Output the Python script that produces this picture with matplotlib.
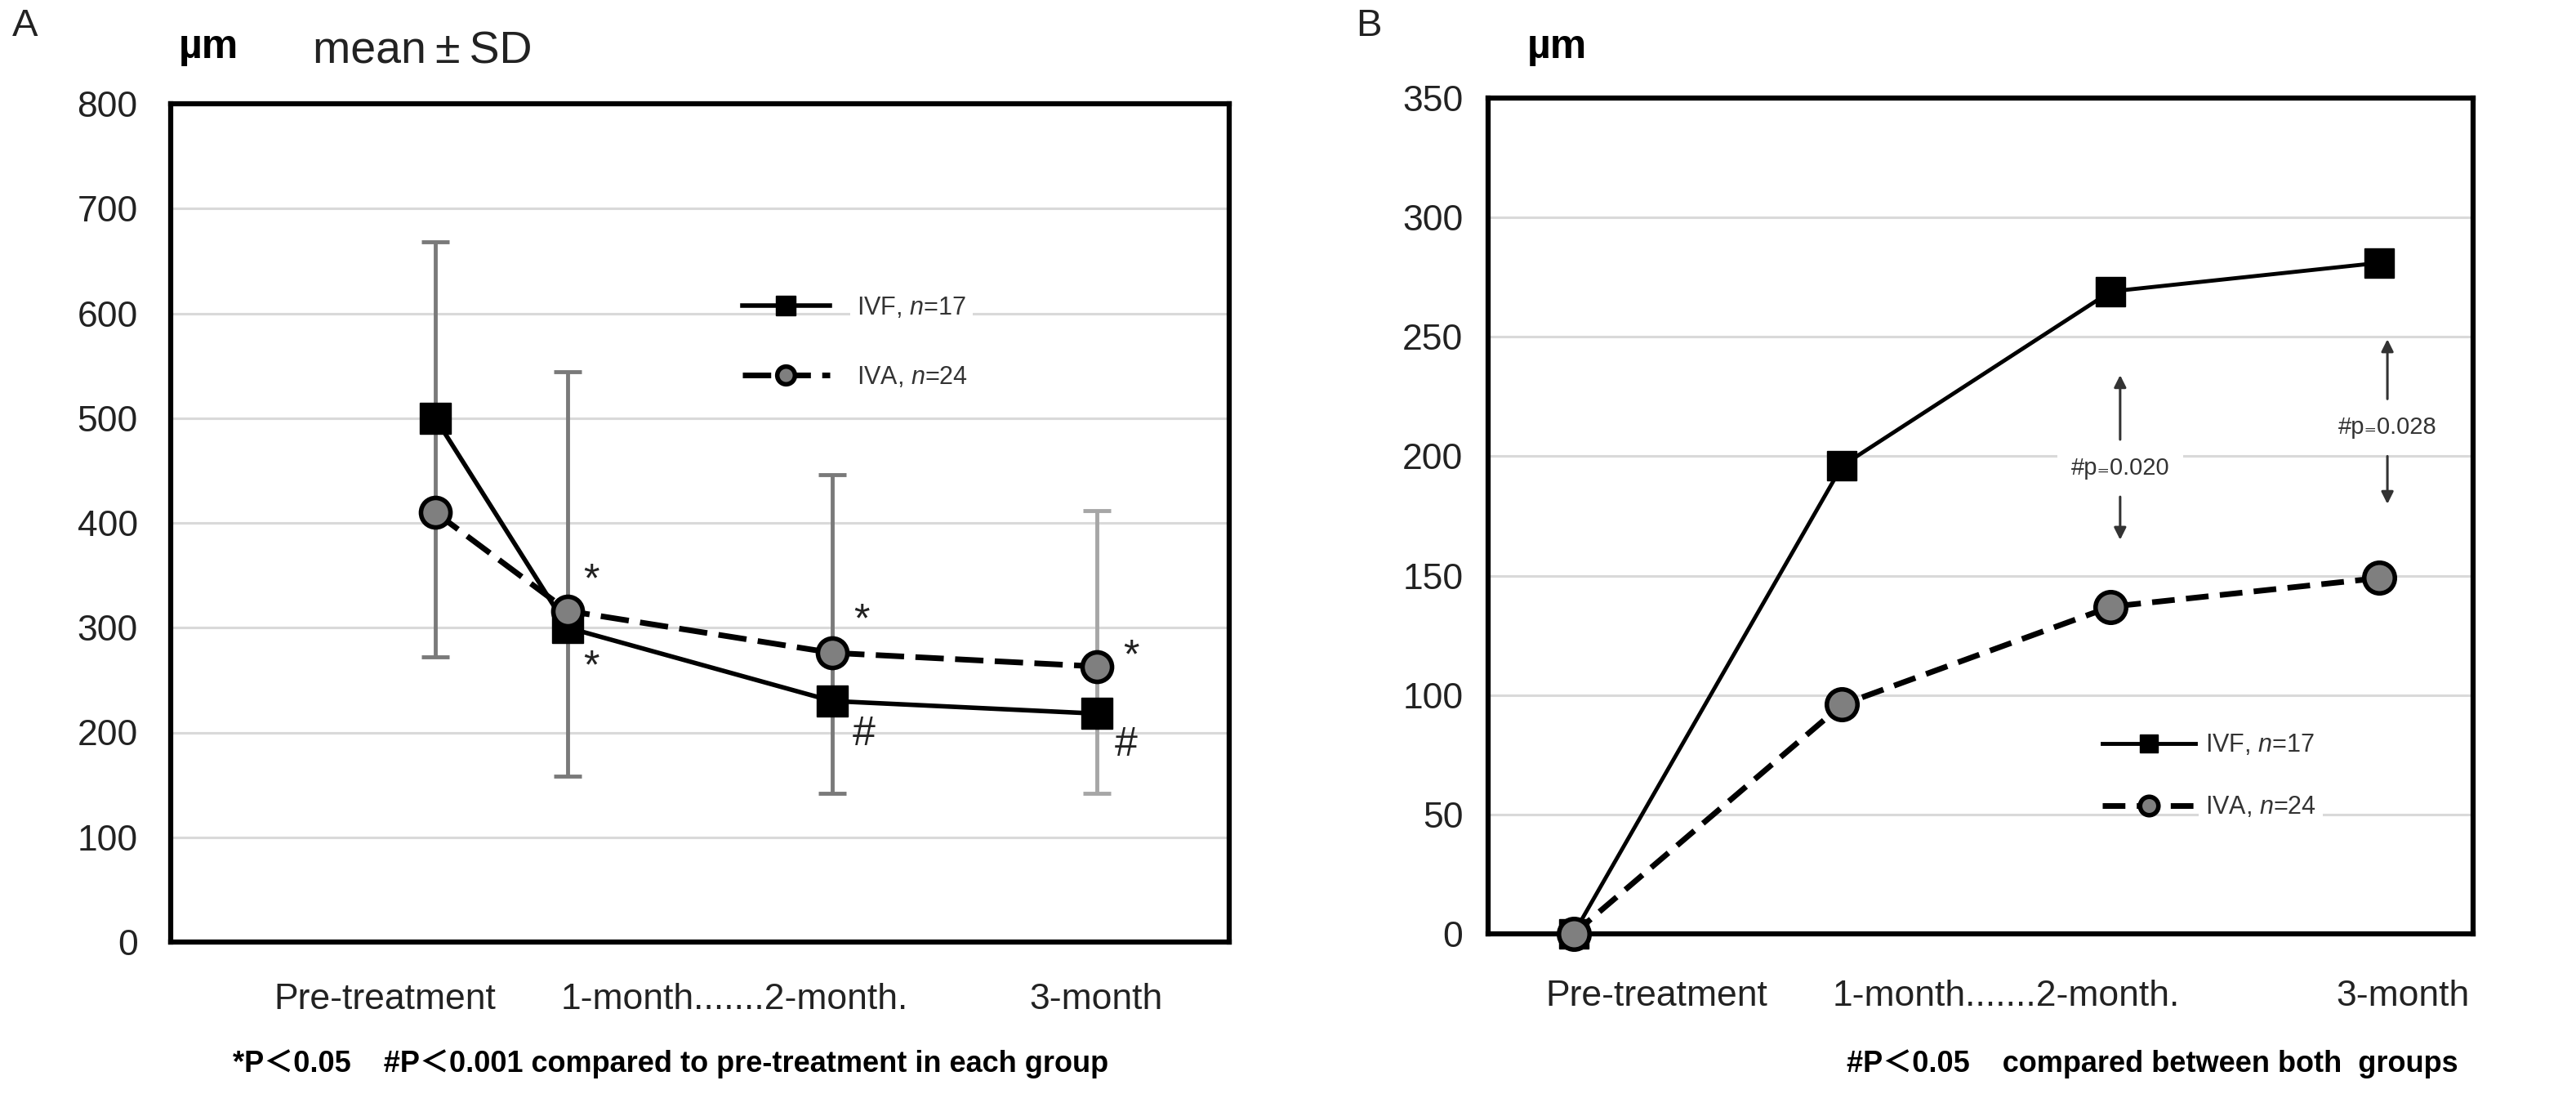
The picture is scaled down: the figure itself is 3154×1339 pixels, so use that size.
import matplotlib
matplotlib.use('Agg')
import matplotlib.pyplot as plt
from matplotlib import font_manager

# pick the narrow face if it is there
names = {f.name for f in font_manager.fontManager.ttflist}
NARROW = 'Liberation Sans Narrow' if 'Liberation Sans Narrow' in names else 'Liberation Sans'
FAM = [NARROW, 'Noto Sans CJK JP', 'DejaVu Sans']
plt.rcParams['font.family'] = FAM
plt.rcParams['mathtext.fontset'] = 'custom'
plt.rcParams['mathtext.it'] = 'Liberation Sans:italic'
plt.rcParams['mathtext.rm'] = 'Liberation Sans'

# ---- data ----
tick_labels = ['Pre-treatment', '1-month.......', '2-month.', '3-month']
ivf_thick = [500, 300, 230, 218]
iva_thick = [410, 316, 276, 263]
sd_top = [668, 544, 446, 412]
sd_bottom = [272, 158, 142, 142]
ivf_change = [0, 196, 269, 281]
iva_change = [0, 96, 137, 149]
p_text = ['#p\u208c0.020', '#p\u208c0.028']
legend_ivf = 'IVF, $n$=17'
legend_iva = 'IVA, $n$=24'

# category slots (panel A pre-treatment point sits off its slot in the original)
xa = [1.0, 1.5, 2.5, 3.5]
xb = [0, 1, 2, 3]
lab_xa = [0.39, 1.475, 3.245]
lab_xb = [-0.104, 0.965, 2.84]
bar_cols = ['#7a7a7a', '#7a7a7a', '#7a7a7a', '#a6a6a6']

W, H = 3154, 1339
fig = plt.figure(figsize=(W / 100, H / 100), dpi=100)
axA = fig.add_axes([209 / W, 1 - 1153 / H, (1505 - 209) / W, (1153 - 127) / H])
axB = fig.add_axes([1822 / W, 1 - 1143 / H, (3028 - 1822) / W, (1143 - 120) / H])


def style(ax, top, step, pad):
    ax.set_ylim(0, top)
    ax.set_yticks(range(0, top + 1, step))
    ax.set_xticks([])
    ax.yaxis.grid(True, color='#d9d9d9', lw=2.2)
    ax.set_axisbelow(True)
    ax.tick_params(axis='y', length=0, pad=pad, labelsize=32, labelcolor='#222222')
    for s in ax.spines.values():
        s.set_linewidth(4.5)
        s.set_color('black')


def xlabels(ax, xs, y):
    texts = [tick_labels[0], tick_labels[1] + tick_labels[2], tick_labels[3]]
    for x, s in zip(xs, texts):
        ax.text(x, y, s, transform=ax.get_xaxis_transform(), ha='left', va='center',
                fontsize=32, color='#222222')


# ---- panel A ----
style(axA, 800, 100, 29)
axA.set_xlim(0, 4)
for i in range(len(xa)):
    mid = (sd_top[i] + sd_bottom[i]) / 2
    axA.errorbar(xa[i], mid, yerr=[[mid - sd_bottom[i]], [sd_top[i] - mid]], fmt='none',
                 ecolor=bar_cols[i], elinewidth=3.5, capsize=12, capthick=3.5, zorder=2)
axA.plot(xa, ivf_thick, '-', color='black', lw=4, marker='s', ms=28, mfc='black', mec='black',
         label=legend_ivf, zorder=3)
axA.plot(xa, iva_thick, color='black', lw=5, dashes=(5, 2), marker='o', ms=26, mfc='#7f7f7f',
         mec='black', mew=4, label=legend_iva, zorder=4)

marks = [(1.59, 344, '*'), (1.59, 262, '*'), (2.61, 306, '*'), (2.62, 198, '#'),
         (3.63, 272, '*'), (3.61, 188, '#')]
for x, y, s in marks:
    axA.text(x, y, s, ha='center', va='center', fontsize=36, color='#222222',
             family=['Liberation Sans', 'DejaVu Sans'])

legA = axA.legend(loc='upper left', bbox_to_anchor=(0.54, 0.771), frameon=False,
                  handlelength=3.5, handletextpad=1.1, labelspacing=1.8, borderpad=0,
                  borderaxespad=0, markerscale=0.6,
                  prop={'family': ['Liberation Sans', 'DejaVu Sans'], 'size': 22})
for t in legA.get_texts():
    t.set_color('#333333')
    t.set_bbox(dict(facecolor='white', edgecolor='none', pad=6))

xlabels(axA, lab_xa, -0.069)

# ---- panel B ----
style(axB, 350, 50, 22)
axB.set_xlim(-0.318, 3.349)
axB.plot(xb, ivf_change, '-', color='black', lw=3.5, marker='s', ms=26, mfc='black', mec='black',
         label=legend_ivf, zorder=3, clip_on=False)
axB.plot(xb, iva_change, color='black', lw=5, dashes=(4, 2), marker='o', ms=27, mfc='#7f7f7f',
         mec='black', mew=4, label=legend_iva, zorder=4, clip_on=False)

arrow_sets = [(2.035, 207, 234, 195, 183, 165), (3.03, 224, 249, 212, 200, 180)]
for (x, up0, up1, ty, dn0, dn1), s in zip(arrow_sets, p_text):
    ap = dict(arrowstyle='-|>', color='#333333', lw=2.2, mutation_scale=22, shrinkA=0, shrinkB=0)
    axB.annotate('', xy=(x, up1), xytext=(x, up0), arrowprops=ap)
    axB.annotate('', xy=(x, dn1), xytext=(x, dn0), arrowprops=ap)
    axB.text(x, ty, s, ha='center', va='center', fontsize=21, color='#333333',
             family=[NARROW, 'DejaVu Sans'],
             bbox=dict(facecolor='white', edgecolor='none', pad=12))

legB = axB.legend(loc='upper left', bbox_to_anchor=(1.97, 84), bbox_transform=axB.transData,
                  frameon=False, handlelength=3.7, handletextpad=0.4, labelspacing=1.5,
                  borderpad=0, borderaxespad=0, markerscale=0.6,
                  prop={'family': [NARROW, 'DejaVu Sans'], 'size': 22})
for t in legB.get_texts():
    t.set_color('#333333')
    t.set_bbox(dict(facecolor='white', edgecolor='none', pad=6))

xlabels(axB, lab_xb, -0.075)

# ---- figure texts ----
fig.text(15 / W, 1 - 32 / H, 'A', ha='left', va='center', fontsize=34, color='#222222')
fig.text(1660 / W, 1 - 32 / H, 'B', ha='left', va='center', fontsize=34, color='#222222')
fig.text(219 / W, 1 - 58 / H, '\u00b5m', ha='left', va='center', fontsize=36, fontweight='bold',
         family=['Liberation Sans', 'DejaVu Sans'])
fig.text(1870 / W, 1 - 58 / H, '\u00b5m', ha='left', va='center', fontsize=36, fontweight='bold',
         family=['Liberation Sans', 'DejaVu Sans'])
fig.text(383 / W, 1 - 63 / H, 'mean\u2009\u00b1\u2009SD', ha='left', va='center', fontsize=40,
         color='#222222', family=['Liberation Sans', 'DejaVu Sans'])
fig.text(285 / W, 1 - 1302 / H,
         '*P\uff1c0.05    #P\uff1c0.001 compared to pre-treatment in each group',
         ha='left', va='center', fontsize=26, fontweight='bold')
fig.text(3010 / W, 1 - 1302 / H, '#P\uff1c0.05    compared between both  groups',
         ha='right', va='center', fontsize=26, fontweight='bold')

fig.savefig('out.png', dpi=100, facecolor='white')
